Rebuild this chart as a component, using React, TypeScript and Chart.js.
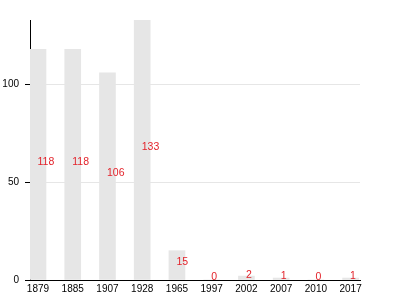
import React, { useEffect, useRef } from "react";
import { Chart, registerables } from "chart.js";

Chart.register(...registerables);

const categories = ["1879", "1885", "1907", "1928", "1965", "1997", "2002", "2007", "2010", "2017"];
const values = [118, 118, 106, 133, 15, 0, 2, 1, 0, 1];
const yTicks = [0, 50, 100];

const FONT = "'Liberation Sans', Arial, Helvetica, sans-serif";

const labelPlugin = {
  id: "midLabels",
  afterDatasetsDraw(chart: any) {
    const ctx = chart.ctx;
    const meta = chart.getDatasetMeta(0);
    const yScale = chart.scales.y;
    ctx.save();
    ctx.fillStyle = "#e3232b";
    ctx.font = `10.5px ${FONT}`;
    ctx.textAlign = "left";
    ctx.textBaseline = "alphabetic";
    meta.data.forEach((bar: any, i: number) => {
      const v = values[i];
      ctx.fillText(String(v), bar.x - 0.5, yScale.getPixelForValue(v / 2));
    });
    ctx.restore();
  },
};

export default function App() {
  const ref = useRef<HTMLCanvasElement>(null);
  useEffect(() => {
    if (!ref.current) return;
    const chart = new Chart(ref.current, {
      type: "bar",
      data: {
        datasets: [
          {
            data: values.map((v, i) => ({ x: i, y: v })),
            backgroundColor: "#e6e6e6",
            borderWidth: 0,
            barThickness: 16,
          },
        ],
      },
      options: {
        responsive: false,
        animation: false,
        layout: { padding: { top: 20, right: 40, left: 0, bottom: 0 } },
        plugins: { legend: { display: false }, tooltip: { enabled: false } },
        scales: {
          x: {
            type: "linear",
            offset: false,
            min: -0.23,
            max: 9.27,
            grid: { display: false, drawTicks: false },
            border: { display: true, color: "#000", width: 1 },
            afterBuildTicks: (s: any) => {
              s.ticks = categories.map((_, i) => ({ value: i }));
            },
            afterFit: (s: any) => {
              s.height = 20;
            },
            ticks: {
              autoSkip: false,
              maxRotation: 0,
              padding: 3,
              color: "#000",
              font: { family: FONT, size: 10 },
              callback: (v: any) => categories[v] ?? "",
            },
          },
          y: {
            min: 0,
            max: 133,
            afterBuildTicks: (s: any) => {
              s.ticks = yTicks.map((v) => ({ value: v }));
            },
            afterFit: (s: any) => {
              s.width = 30;
            },
            grid: {
              color: (c: any) => (c.tick && c.tick.value === 0 ? "rgba(0,0,0,0)" : "#e6e6e6"),
              tickColor: "#000",
              tickLength: 5,
              lineWidth: 1,
            },
            border: { display: true, color: "#000", width: 1 },
            ticks: {
              padding: 6,
              color: "#000",
              font: { family: FONT, size: 10 },
            },
          },
        },
      },
      plugins: [labelPlugin],
    });
    return () => chart.destroy();
  }, []);
  return (
    <div style={{ position: "absolute", left: 0, top: 0, width: 400, height: 300, background: "#fff" }}>
      <canvas ref={ref} width={400} height={300} />
    </div>
  );
}
